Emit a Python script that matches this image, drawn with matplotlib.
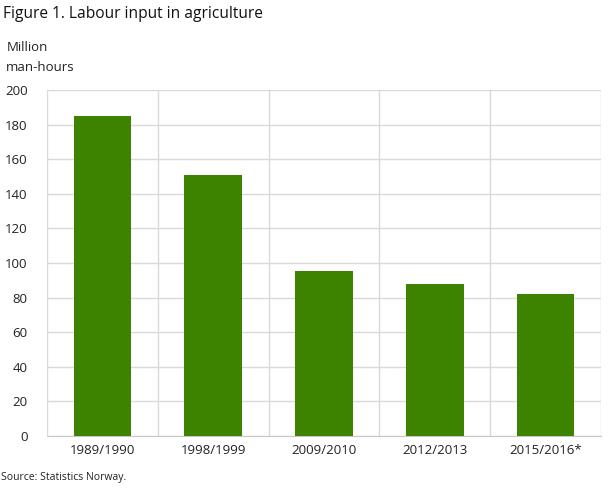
import numpy as np
import matplotlib.pyplot as plt

periods = ["1989/1990", "1998/1999", "2009/2010", "2012/2013", "2015/2016*"]
hours = [185, 151, 95.5, 88, 82]

plt.rcParams['font.family'] = ['Open Sans', 'DejaVu Sans']

fig = plt.figure(figsize=(6.09, 4.88), dpi=100)
ax = fig.add_axes([0.0772, 0.1066, 0.9098, 0.709])

x = np.arange(len(periods))
ax.bar(x, hours, width=0.52, color='#3d8300', zorder=3)

ax.set_xlim(-0.5, len(periods) - 0.5)
ax.set_ylim(0, 200)
ax.set_yticks(np.arange(0, 201, 20))
ax.set_xticks(x)
ax.set_xticklabels(periods)

# category separators as vertical grid
ax.set_xticks(np.arange(-0.5, len(periods), 1), minor=True)
ax.grid(axis='x', which='minor', color='#d9d9d9', linewidth=1, zorder=0)
ax.grid(axis='y', which='major', color='#d9d9d9', linewidth=1, zorder=0)

for s in ['top', 'right', 'left']:
    ax.spines[s].set_visible(False)
ax.spines['bottom'].set_color('#c8c8c8')
ax.tick_params(axis='x', which='both', length=0, labelsize=9.5, colors='#222222', pad=6)
ax.tick_params(axis='y', length=0, labelsize=9.5, colors='#222222', pad=14)

fig.text(0.005, 0.972, "Figure 1. Labour input in agriculture", fontsize=11.2,
         va='center', ha='left', color='#111111', weight='medium')
fig.text(0.011, 0.903, "Million", fontsize=9.5, va='center', color='#222222')
fig.text(0.010, 0.861, "man-hours", fontsize=9.5, va='center', color='#222222')
fig.text(0.002, 0.021, "Source: Statistics Norway.", fontsize=7.5, va='center', color='#222222')

fig.savefig("out.png", dpi=100)
